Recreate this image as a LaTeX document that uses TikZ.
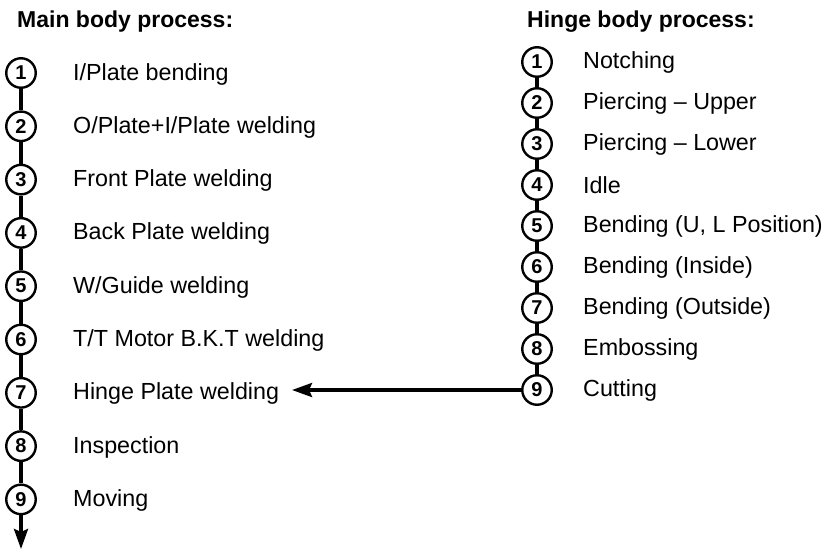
\documentclass[tikz,border=0pt]{standalone}
\usepackage{fontspec}
\setmainfont{Liberation Sans}
\usetikzlibrary{arrows.meta}

\tikzset{
  stepnum/.style={circle,draw,line width=2.4pt,minimum size=29.5pt,inner sep=0pt,
    font=\fontsize{20}{20}\selectfont\bfseries},
  steptext/.style={anchor=west,inner sep=0pt,font=\fontsize{23.3}{25}\selectfont},
  heading/.style={anchor=west,inner sep=0pt,font=\fontsize{23}{25}\selectfont\bfseries},
  link/.style={line width=3.6pt},
  flow/.style={line width=3.4pt,-{Stealth[length=20pt,width=14pt,inset=3pt]}}
}

\begin{document}
\begin{tikzpicture}[x=1pt,y=-1pt]
    \useasboundingbox (0,0) rectangle (824,549);
    % Main body column
    \node[heading] (mainhead) at (17,22) {Main body process:};
    \foreach \i/\txt in {1/{I/Plate bending},2/{O/Plate+I/Plate welding},3/{Front Plate welding},
        4/{Back Plate welding},5/{W/Guide welding},6/{T/T Motor B.K.T welding},
        7/{Hinge Plate welding},8/{Inspection},9/{Moving}} {
      \node[stepnum] (m\i) at (21,{73+(\i-1)*53.3}) {\i};
      \node[steptext] (mt\i) at (73,{74+(\i-1)*53.3}) {\txt};
    }
    \foreach \i [remember=\i as \last (initially 1)] in {2,...,9}
      {\draw[link] (m\last) -- (m\i);}
    \coordinate (mend) at (21,549);
    \draw[flow] (m9) -- (mend);
    % Hinge body column
    \node[heading] (hingehead) at (527,22) {Hinge body process:};
    \foreach \i/\txt in {1/{Notching},2/{Piercing – Upper},3/{Piercing – Lower},4/{Idle},
        5/{Bending (U, L Position)},6/{Bending (Inside)},7/{Bending (Outside)},
        8/{Embossing},9/{Cutting}} {
      \node[stepnum] (h\i) at (537,{62+(\i-1)*41}) {\i};
      \node[steptext] (ht\i) at (583,{62+(\i-1)*41}) {\txt};
    }
    \foreach \i [remember=\i as \last (initially 1)] in {2,...,9}
      {\draw[link] (h\last) -- (h\i);}
    % Cutting feeds the hinge plate welding step
    \coordinate (hingein) at (292,390);
    \draw[flow] (h9) -- (hingein);
\end{tikzpicture}
\end{document}
